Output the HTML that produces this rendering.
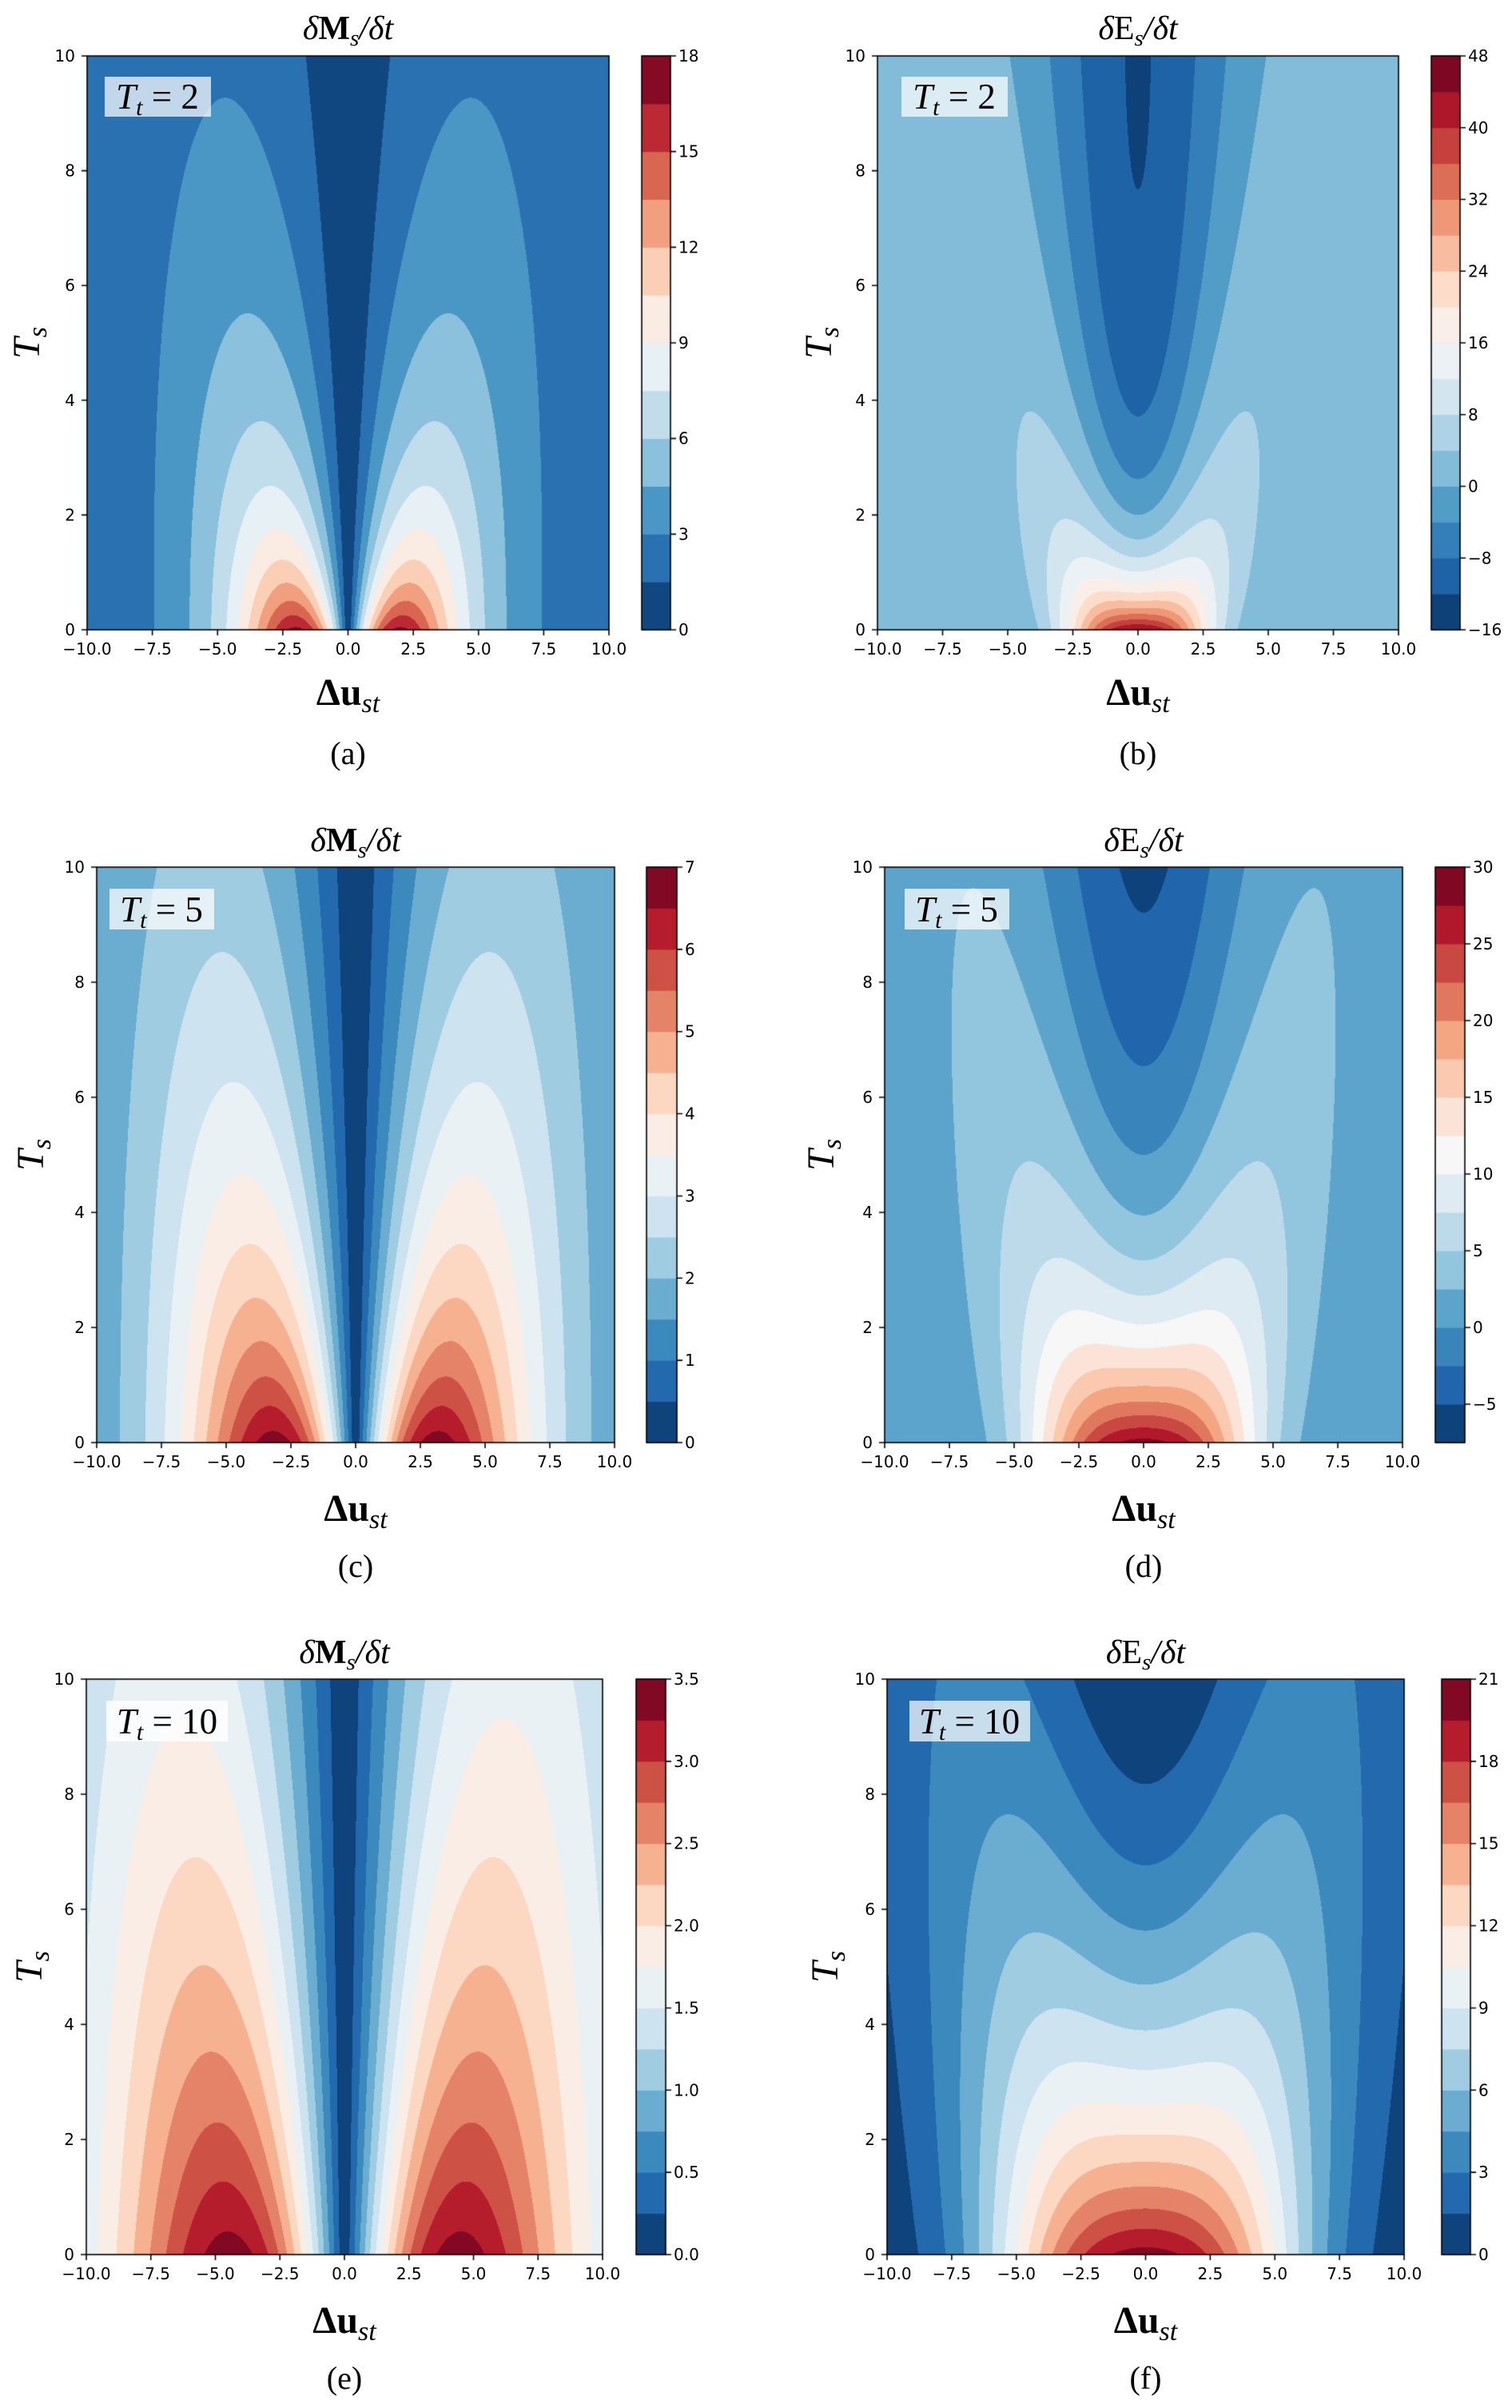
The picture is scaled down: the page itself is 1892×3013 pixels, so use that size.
<!DOCTYPE html>
<html><head><meta charset="utf-8">
<style>
html,body{margin:0;padding:0;background:#fff;}
#wrap{position:relative;width:1892px;height:3013px;overflow:hidden;}
canvas,svg.ov{position:absolute;left:0;top:0;}
.tk{font-family:"DejaVu Sans","Liberation Sans",sans-serif;font-size:20px;fill:#000;}
.m{font-family:"Liberation Serif","DejaVu Serif",serif;fill:#000;}
</style></head><body><div id="wrap">
<canvas id="cv" width="1892" height="3013"></canvas>
<svg class="ov" width="1892" height="3013" xmlns="http://www.w3.org/2000/svg">

<!-- (a) -->
<svg x="109" y="70" width="653" height="718" overflow="visible">
<g class="tk" text-anchor="middle">
<text x="0%" y="100%" dy="31">−10.0</text><text x="12.5%" y="100%" dy="31">−7.5</text><text x="25%" y="100%" dy="31">−5.0</text><text x="37.5%" y="100%" dy="31">−2.5</text><text x="50%" y="100%" dy="31">0.0</text><text x="62.5%" y="100%" dy="31">2.5</text><text x="75%" y="100%" dy="31">5.0</text><text x="87.5%" y="100%" dy="31">7.5</text><text x="100%" y="100%" dy="31">10.0</text></g>
<g class="tk" text-anchor="end">
<text x="-15" y="100%" dy="7">0</text><text x="-15" y="80%" dy="7">2</text><text x="-15" y="60%" dy="7">4</text><text x="-15" y="40%" dy="7">6</text><text x="-15" y="20%" dy="7">8</text><text x="-15" y="0%" dy="7">10</text></g>
<text class="m" x="50%" y="-21" text-anchor="middle" font-size="42"><tspan font-style="italic">δ</tspan><tspan font-weight="bold">M</tspan><tspan font-style="italic" font-size="29" dy="8">s</tspan><tspan font-style="italic" dy="-8">/δt</tspan></text>
<text class="m" x="50%" y="100%" dy="94" text-anchor="middle" font-size="48"><tspan font-weight="bold">Δu</tspan><tspan font-style="italic" font-size="34" dy="9">st</tspan></text>
<text class="m" x="50%" y="100%" dy="168" text-anchor="middle" font-size="40">(a)</text>
<text class="m" transform="translate(-60,359) rotate(-90)" text-anchor="middle" font-size="48" font-style="italic">T<tspan font-size="34" dy="9">s</tspan></text>
<rect x="22" y="26" width="133" height="50" fill="#fff" fill-opacity="0.72"/>
<text class="m" x="88" y="66" text-anchor="middle" font-size="45"><tspan font-style="italic">T</tspan><tspan font-style="italic" font-size="30" dy="8">t</tspan><tspan dy="-8"> = 2</tspan></text>
</svg>
<svg x="803" y="70" width="36" height="718" overflow="visible"><g class="tk">
<text x="100%" dx="10" y="100%" dy="7">0</text><text x="100%" dx="10" y="83.333%" dy="7">3</text><text x="100%" dx="10" y="66.667%" dy="7">6</text><text x="100%" dx="10" y="50%" dy="7">9</text><text x="100%" dx="10" y="33.333%" dy="7">12</text><text x="100%" dx="10" y="16.667%" dy="7">15</text><text x="100%" dx="10" y="0%" dy="7">18</text></g></svg>

<!-- (b) -->
<svg x="1098" y="70" width="652" height="718" overflow="visible">
<g class="tk" text-anchor="middle">
<text x="0%" y="100%" dy="31">−10.0</text><text x="12.5%" y="100%" dy="31">−7.5</text><text x="25%" y="100%" dy="31">−5.0</text><text x="37.5%" y="100%" dy="31">−2.5</text><text x="50%" y="100%" dy="31">0.0</text><text x="62.5%" y="100%" dy="31">2.5</text><text x="75%" y="100%" dy="31">5.0</text><text x="87.5%" y="100%" dy="31">7.5</text><text x="100%" y="100%" dy="31">10.0</text></g>
<g class="tk" text-anchor="end">
<text x="-15" y="100%" dy="7">0</text><text x="-15" y="80%" dy="7">2</text><text x="-15" y="60%" dy="7">4</text><text x="-15" y="40%" dy="7">6</text><text x="-15" y="20%" dy="7">8</text><text x="-15" y="0%" dy="7">10</text></g>
<text class="m" x="50%" y="-21" text-anchor="middle" font-size="42"><tspan font-style="italic">δ</tspan><tspan>E</tspan><tspan font-style="italic" font-size="29" dy="8">s</tspan><tspan font-style="italic" dy="-8">/δt</tspan></text>
<text class="m" x="50%" y="100%" dy="94" text-anchor="middle" font-size="48"><tspan font-weight="bold">Δu</tspan><tspan font-style="italic" font-size="34" dy="9">st</tspan></text>
<text class="m" x="50%" y="100%" dy="168" text-anchor="middle" font-size="40">(b)</text>
<text class="m" transform="translate(-58,359) rotate(-90)" text-anchor="middle" font-size="48" font-style="italic">T<tspan font-size="34" dy="9">s</tspan></text>
<rect x="30" y="26" width="133" height="50" fill="#fff" fill-opacity="0.72"/>
<text class="m" x="96" y="66" text-anchor="middle" font-size="45"><tspan font-style="italic">T</tspan><tspan font-style="italic" font-size="30" dy="8">t</tspan><tspan dy="-8"> = 2</tspan></text>
</svg>
<svg x="1791" y="70" width="36" height="718" overflow="visible"><g class="tk">
<text x="100%" dx="10" y="100%" dy="7">−16</text><text x="100%" dx="10" y="87.5%" dy="7">−8</text><text x="100%" dx="10" y="75%" dy="7">0</text><text x="100%" dx="10" y="62.5%" dy="7">8</text><text x="100%" dx="10" y="50%" dy="7">16</text><text x="100%" dx="10" y="37.5%" dy="7">24</text><text x="100%" dx="10" y="25%" dy="7">32</text><text x="100%" dx="10" y="12.5%" dy="7">40</text><text x="100%" dx="10" y="0%" dy="7">48</text></g></svg>

<!-- (c) -->
<svg x="121" y="1085" width="648" height="720" overflow="visible">
<g class="tk" text-anchor="middle">
<text x="0%" y="100%" dy="31">−10.0</text><text x="12.5%" y="100%" dy="31">−7.5</text><text x="25%" y="100%" dy="31">−5.0</text><text x="37.5%" y="100%" dy="31">−2.5</text><text x="50%" y="100%" dy="31">0.0</text><text x="62.5%" y="100%" dy="31">2.5</text><text x="75%" y="100%" dy="31">5.0</text><text x="87.5%" y="100%" dy="31">7.5</text><text x="100%" y="100%" dy="31">10.0</text></g>
<g class="tk" text-anchor="end">
<text x="-15" y="100%" dy="7">0</text><text x="-15" y="80%" dy="7">2</text><text x="-15" y="60%" dy="7">4</text><text x="-15" y="40%" dy="7">6</text><text x="-15" y="20%" dy="7">8</text><text x="-15" y="0%" dy="7">10</text></g>
<text class="m" x="50%" y="-20" text-anchor="middle" font-size="42"><tspan font-style="italic">δ</tspan><tspan font-weight="bold">M</tspan><tspan font-style="italic" font-size="29" dy="8">s</tspan><tspan font-style="italic" dy="-8">/δt</tspan></text>
<text class="m" x="50%" y="100%" dy="98" text-anchor="middle" font-size="48"><tspan font-weight="bold">Δu</tspan><tspan font-style="italic" font-size="34" dy="9">st</tspan></text>
<text class="m" x="50%" y="100%" dy="168" text-anchor="middle" font-size="40">(c)</text>
<text class="m" transform="translate(-67,360) rotate(-90)" text-anchor="middle" font-size="48" font-style="italic">T<tspan font-size="34" dy="9">s</tspan></text>
<rect x="16" y="27" width="131" height="51" fill="#fff" fill-opacity="0.72"/>
<text class="m" x="81" y="68" text-anchor="middle" font-size="45"><tspan font-style="italic">T</tspan><tspan font-style="italic" font-size="30" dy="8">t</tspan><tspan dy="-8"> = 5</tspan></text>
</svg>
<svg x="809" y="1085" width="38" height="720" overflow="visible"><g class="tk">
<text x="100%" dx="10" y="100%" dy="7">0</text><text x="100%" dx="10" y="85.714%" dy="7">1</text><text x="100%" dx="10" y="71.429%" dy="7">2</text><text x="100%" dx="10" y="57.143%" dy="7">3</text><text x="100%" dx="10" y="42.857%" dy="7">4</text><text x="100%" dx="10" y="28.571%" dy="7">5</text><text x="100%" dx="10" y="14.286%" dy="7">6</text><text x="100%" dx="10" y="0%" dy="7">7</text></g></svg>

<!-- (d) -->
<svg x="1107" y="1085" width="648" height="720" overflow="visible">
<g class="tk" text-anchor="middle">
<text x="0%" y="100%" dy="31">−10.0</text><text x="12.5%" y="100%" dy="31">−7.5</text><text x="25%" y="100%" dy="31">−5.0</text><text x="37.5%" y="100%" dy="31">−2.5</text><text x="50%" y="100%" dy="31">0.0</text><text x="62.5%" y="100%" dy="31">2.5</text><text x="75%" y="100%" dy="31">5.0</text><text x="87.5%" y="100%" dy="31">7.5</text><text x="100%" y="100%" dy="31">10.0</text></g>
<g class="tk" text-anchor="end">
<text x="-15" y="100%" dy="7">0</text><text x="-15" y="80%" dy="7">2</text><text x="-15" y="60%" dy="7">4</text><text x="-15" y="40%" dy="7">6</text><text x="-15" y="20%" dy="7">8</text><text x="-15" y="0%" dy="7">10</text></g>
<text class="m" x="50%" y="-20" text-anchor="middle" font-size="42"><tspan font-style="italic">δ</tspan><tspan>E</tspan><tspan font-style="italic" font-size="29" dy="8">s</tspan><tspan font-style="italic" dy="-8">/δt</tspan></text>
<text class="m" x="50%" y="100%" dy="98" text-anchor="middle" font-size="48"><tspan font-weight="bold">Δu</tspan><tspan font-style="italic" font-size="34" dy="9">st</tspan></text>
<text class="m" x="50%" y="100%" dy="168" text-anchor="middle" font-size="40">(d)</text>
<text class="m" transform="translate(-64,360) rotate(-90)" text-anchor="middle" font-size="48" font-style="italic">T<tspan font-size="34" dy="9">s</tspan></text>
<rect x="25" y="27" width="131" height="51" fill="#fff" fill-opacity="0.72"/>
<text class="m" x="90" y="68" text-anchor="middle" font-size="45"><tspan font-style="italic">T</tspan><tspan font-style="italic" font-size="30" dy="8">t</tspan><tspan dy="-8"> = 5</tspan></text>
</svg>
<svg x="1796" y="1085" width="37" height="720" overflow="visible"><g class="tk">
<text x="100%" dx="10" y="93.333%" dy="7">−5</text><text x="100%" dx="10" y="80%" dy="7">0</text><text x="100%" dx="10" y="66.667%" dy="7">5</text><text x="100%" dx="10" y="53.333%" dy="7">10</text><text x="100%" dx="10" y="40%" dy="7">15</text><text x="100%" dx="10" y="26.667%" dy="7">20</text><text x="100%" dx="10" y="13.333%" dy="7">25</text><text x="100%" dx="10" y="0%" dy="7">30</text></g></svg>

<!-- (e) -->
<svg x="108" y="2101" width="646" height="720" overflow="visible">
<g class="tk" text-anchor="middle">
<text x="0%" y="100%" dy="31">−10.0</text><text x="12.5%" y="100%" dy="31">−7.5</text><text x="25%" y="100%" dy="31">−5.0</text><text x="37.5%" y="100%" dy="31">−2.5</text><text x="50%" y="100%" dy="31">0.0</text><text x="62.5%" y="100%" dy="31">2.5</text><text x="75%" y="100%" dy="31">5.0</text><text x="87.5%" y="100%" dy="31">7.5</text><text x="100%" y="100%" dy="31">10.0</text></g>
<g class="tk" text-anchor="end">
<text x="-15" y="100%" dy="7">0</text><text x="-15" y="80%" dy="7">2</text><text x="-15" y="60%" dy="7">4</text><text x="-15" y="40%" dy="7">6</text><text x="-15" y="20%" dy="7">8</text><text x="-15" y="0%" dy="7">10</text></g>
<text class="m" x="50%" y="-20" text-anchor="middle" font-size="42"><tspan font-style="italic">δ</tspan><tspan font-weight="bold">M</tspan><tspan font-style="italic" font-size="29" dy="8">s</tspan><tspan font-style="italic" dy="-8">/δt</tspan></text>
<text class="m" x="50%" y="100%" dy="98" text-anchor="middle" font-size="48"><tspan font-weight="bold">Δu</tspan><tspan font-style="italic" font-size="34" dy="9">st</tspan></text>
<text class="m" x="50%" y="100%" dy="168" text-anchor="middle" font-size="40">(e)</text>
<text class="m" transform="translate(-56,360) rotate(-90)" text-anchor="middle" font-size="48" font-style="italic">T<tspan font-size="34" dy="9">s</tspan></text>
<rect x="25" y="27" width="152" height="51" fill="#fff" fill-opacity="0.8"/>
<text class="m" x="101" y="68" text-anchor="middle" font-size="45"><tspan font-style="italic">T</tspan><tspan font-style="italic" font-size="30" dy="8">t</tspan><tspan dy="-8"> = 10</tspan></text>
</svg>
<svg x="796" y="2101" width="37" height="720" overflow="visible"><g class="tk">
<text x="100%" dx="10" y="100%" dy="7">0.0</text><text x="100%" dx="10" y="85.714%" dy="7">0.5</text><text x="100%" dx="10" y="71.429%" dy="7">1.0</text><text x="100%" dx="10" y="57.143%" dy="7">1.5</text><text x="100%" dx="10" y="42.857%" dy="7">2.0</text><text x="100%" dx="10" y="28.571%" dy="7">2.5</text><text x="100%" dx="10" y="14.286%" dy="7">3.0</text><text x="100%" dx="10" y="0%" dy="7">3.5</text></g></svg>

<!-- (f) -->
<svg x="1110" y="2101" width="647" height="720" overflow="visible">
<g class="tk" text-anchor="middle">
<text x="0%" y="100%" dy="31">−10.0</text><text x="12.5%" y="100%" dy="31">−7.5</text><text x="25%" y="100%" dy="31">−5.0</text><text x="37.5%" y="100%" dy="31">−2.5</text><text x="50%" y="100%" dy="31">0.0</text><text x="62.5%" y="100%" dy="31">2.5</text><text x="75%" y="100%" dy="31">5.0</text><text x="87.5%" y="100%" dy="31">7.5</text><text x="100%" y="100%" dy="31">10.0</text></g>
<g class="tk" text-anchor="end">
<text x="-15" y="100%" dy="7">0</text><text x="-15" y="80%" dy="7">2</text><text x="-15" y="60%" dy="7">4</text><text x="-15" y="40%" dy="7">6</text><text x="-15" y="20%" dy="7">8</text><text x="-15" y="0%" dy="7">10</text></g>
<text class="m" x="50%" y="-20" text-anchor="middle" font-size="42"><tspan font-style="italic">δ</tspan><tspan>E</tspan><tspan font-style="italic" font-size="29" dy="8">s</tspan><tspan font-style="italic" dy="-8">/δt</tspan></text>
<text class="m" x="50%" y="100%" dy="98" text-anchor="middle" font-size="48"><tspan font-weight="bold">Δu</tspan><tspan font-style="italic" font-size="34" dy="9">st</tspan></text>
<text class="m" x="50%" y="100%" dy="168" text-anchor="middle" font-size="40">(f)</text>
<text class="m" transform="translate(-62,360) rotate(-90)" text-anchor="middle" font-size="48" font-style="italic">T<tspan font-size="34" dy="9">s</tspan></text>
<rect x="28" y="27" width="151" height="51" fill="#fff" fill-opacity="0.72"/>
<text class="m" x="103" y="68" text-anchor="middle" font-size="45"><tspan font-style="italic">T</tspan><tspan font-style="italic" font-size="30" dy="8">t</tspan><tspan dy="-8"> = 10</tspan></text>
</svg>
<svg x="1804" y="2101" width="36" height="720" overflow="visible"><g class="tk">
<text x="100%" dx="10" y="100%" dy="7">0</text><text x="100%" dx="10" y="85.714%" dy="7">3</text><text x="100%" dx="10" y="71.429%" dy="7">6</text><text x="100%" dx="10" y="57.143%" dy="7">9</text><text x="100%" dx="10" y="42.857%" dy="7">12</text><text x="100%" dx="10" y="28.571%" dy="7">15</text><text x="100%" dx="10" y="14.286%" dy="7">18</text><text x="100%" dx="10" y="0%" dy="7">21</text></g></svg>
</svg>
</div>
<script>
(function(){
var cv=document.getElementById('cv'),ctx=cv.getContext('2d');
var C=[[5,48,97],[33,102,172],[67,147,195],[146,197,222],[209,229,240],[247,247,247],[253,219,199],[244,165,130],[214,96,77],[178,24,43],[103,0,31]];
function cmap(t){var p=Math.max(0,Math.min(1,t))*10,i=Math.min(9,Math.floor(p)),f=p-i;
return [0,1,2].map(function(k){return Math.round(C[i][k]+(C[i+1][k]-C[i][k])*f);});}
function erf(x){var t=1/(1+0.3275911*x);var y=1-(((((1.061405429*t-1.453152027)*t)+1.421413741)*t-0.284496736)*t+0.254829592)*t*Math.exp(-x*x);return y;}
function G(u){if(u<1e-3)return 0.37613*u;return (erf(u)-1.1283792*u*Math.exp(-u*u))/(2*u*u);}
function M(Tt){return function(x,ts){var sm=Tt+ts,sg=1.45*Math.sqrt(sm);return 158/sm*G(Math.abs(x)/sg);};}
function E(Tt){return function(x,ts){var s=2*(Tt+ts);return 180*((Tt-ts)+0.33*x*x)*Math.exp(-x*x/s)/Math.pow(s,1.5);};}
var P=[
{L:109,R:762,T:70,B:788,cL:803,cR:839,l0:0,st:1.5,n:12,f:M(2),cb:[0,3,6,9,12,15,18]},
{L:1098,R:1750,T:70,B:788,cL:1791,cR:1827,l0:-16,st:4,n:16,f:E(2),cb:[-16,-8,0,8,16,24,32,40,48]},
{L:121,R:769,T:1085,B:1805,cL:809,cR:847,l0:0,st:0.5,n:14,f:M(5),cb:[0,1,2,3,4,5,6,7]},
{L:1107,R:1755,T:1085,B:1805,cL:1796,cR:1833,l0:-7.5,st:2.5,n:15,f:E(5),cb:[-5,0,5,10,15,20,25,30]},
{L:108,R:754,T:2101,B:2821,cL:796,cR:833,l0:0,st:0.25,n:14,f:M(10),cb:[0,0.5,1,1.5,2,2.5,3,3.5]},
{L:1110,R:1757,T:2101,B:2821,cL:1804,cR:1840,l0:0,st:1.5,n:14,f:E(10),cb:[0,3,6,9,12,15,18,21]}];
P.forEach(function(p){
var W=p.R-p.L,H=p.B-p.T,cols=[];
for(var i=0;i<p.n;i++)cols.push(cmap((i+0.5)/p.n));
var img=ctx.createImageData(W,H),d=img.data;
for(var py=0;py<H;py++){var ts=10*(1-(py+0.5)/H);
for(var px=0;px<W;px++){var x=-10+20*(px+0.5)/W;var v=p.f(x,ts);
var b=Math.floor((v-p.l0)/p.st);if(b<0)b=0;if(b>p.n-1)b=p.n-1;var c=cols[b],o=(py*W+px)*4;
d[o]=c[0];d[o+1]=c[1];d[o+2]=c[2];d[o+3]=255;}}
ctx.putImageData(img,p.L,p.T);
var bh=H/p.n;
for(var i=0;i<p.n;i++){var c=cols[i];ctx.fillStyle='rgb('+c.join(',')+')';
ctx.fillRect(p.cL,p.B-(i+1)*bh-0.5,p.cR-p.cL,bh+1);}
ctx.strokeStyle='#000';ctx.lineWidth=1.6;
ctx.strokeRect(p.L,p.T,W,H);ctx.strokeRect(p.cL,p.T,p.cR-p.cL,H);
ctx.beginPath();
for(var k=0;k<=8;k++){var xx=p.L+k*W/8;ctx.moveTo(xx,p.B);ctx.lineTo(xx,p.B+7);}
for(var k=0;k<=5;k++){var yy=p.B-k*H/5;ctx.moveTo(p.L,yy);ctx.lineTo(p.L-7,yy);}
var lmax=p.l0+p.n*p.st;
p.cb.forEach(function(v){var yy=p.B-(v-p.l0)/(lmax-p.l0)*H;ctx.moveTo(p.cR,yy);ctx.lineTo(p.cR+7,yy);});
ctx.stroke();
});
})();
</script>
</body></html>
